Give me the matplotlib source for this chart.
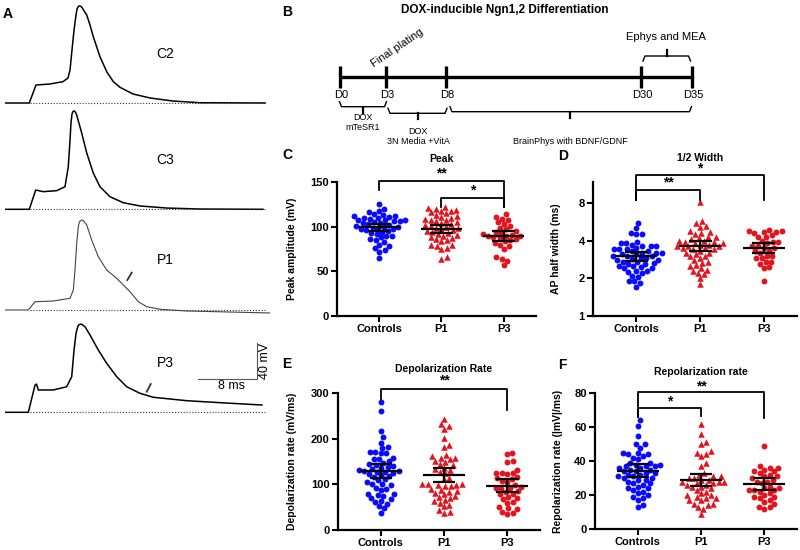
import numpy as np
import matplotlib
matplotlib.use("Agg")
import matplotlib.pyplot as plt

plt.rcParams['font.family'] = ['Liberation Sans', 'DejaVu Sans']

# -----------------------------
# Panel A: AP traces (time in ms, voltage in mV above rest)
# -----------------------------
trace_names = ["C2", "C3", "P1", "P3"]

c2_t = [0, 3.33, 4.25, 6.17, 7.96, 8.64, 8.92, 9.19, 9.47, 9.74, 9.88, 10.01, 10.15, 10.29,
        10.43, 10.56, 10.77, 11.21, 11.66, 12.11, 13.03, 13.95, 14.86, 15.78, 17.56, 19.89,
        23.05, 26.75, 35.67]
c2_v = [0, 0, 20, 21.1, 23.7, 27.8, 36.7, 58.9, 81.1, 97.8, 104.4, 106.7, 107.8, 107.8,
        107.2, 106.1, 103.3, 97.8, 86.7, 73.7, 51.4, 34.8, 23.7, 17.4, 10, 5.6,
        2.2, 0.3, 0]

c3_t = [0, 3.33, 4.21, 5.25, 7.09, 8.23, 8.68, 8.92, 9.05, 9.19, 9.3, 9.43, 9.56, 9.7, 9.83,
        10.52, 11.21, 12.11, 13.03, 14.4, 16.23, 18.52, 22.18, 26.75, 35.39]
c3_v = [0, 0, 21.4, 19.6, 20.7, 25.1, 47.3, 77, 95.9, 105.9, 108.3, 109.3, 109, 107.3, 104.8,
        84.8, 62.6, 40.3, 25.1, 14, 7.3, 3.7, 1.4, 0.3, 0]

p1_t = [0, 3.2, 4.12, 6.63, 8.92, 9.37, 9.6, 9.84, 10.06, 10.15, 10.29, 10.52, 10.67, 10.84,
        11.21, 11.89, 12.8, 13.95, 15.32, 16.23, 17.15, 18.29, 19.44, 21.26, 24.92, 36.35]
p1_v = [0, 0, 9.2, 10, 13, 22.2, 44.4, 74.1, 92.6, 96.1, 98.9, 100, 99.7, 98.3,
        94.4, 77.8, 59.2, 44.4, 35.2, 27.8, 20.3, 9.2, 3.7, 0.8, -1.1, -3.3]

p3_t = [0, 3.2, 4.12, 4.32, 4.57, 6.63, 8.46, 9.15, 9.47, 9.74, 10.01, 10.15, 10.29, 10.43,
        10.56, 10.97, 11.66, 12.8, 13.95, 15.32, 16.69, 18.52, 20.34, 24.92, 29.49, 35.25]
p3_v = [0, 0, 30.3, 31.4, 24.8, 24.8, 28.4, 39.6, 69.2, 87.8, 95.9, 97.3, 97.8, 97.9,
        97.6, 95.1, 85.9, 69.2, 54.4, 39.6, 28.4, 21.1, 16.7, 12.9, 10.7, 8.1]

# shoulder marks (P1, P3)
p1_mark_t = [16.78, 17.38]
p1_mark_v = [33.3, 41.5]
p3_mark_t = [19.44, 19.99]
p3_mark_v = [22.9, 31.4]

scale_ms = 8
scale_mv = 40

# -----------------------------
# Panels C-F: per-cell values
# -----------------------------
groups = ["Controls", "P1", "P3"]

peak_controls = [125, 120, 117, 116, 114, 113, 112, 112, 111, 110, 110, 109, 108, 108, 107, 106,
                 106, 105, 104, 104, 103, 102, 101, 100, 100, 99, 98, 97, 97, 96, 95, 94, 93,
                 92, 90, 89, 88, 86, 85, 83, 80, 78, 76, 74, 72, 65]
peak_p1 = [122, 121, 120, 119, 118, 117, 116, 115, 113, 112, 111, 110, 109, 108, 107, 106,
           105, 104, 103, 102, 101, 100, 99, 98, 97, 96, 95, 94, 93, 92, 91, 90, 88, 87, 86,
           85, 84, 80, 79, 78, 76, 75, 66, 64]
peak_p3 = [114, 111, 109, 107, 105, 103, 101, 99, 97, 95, 94, 93, 92, 91, 90, 90, 89, 88, 87,
           86, 85, 84, 82, 80, 78, 75, 66, 64, 62, 57]
peak_mean = [99.4, 97.5, 89.7]
peak_lo = [95.3, 93.4, 84.1]
peak_hi = [103.5, 101.6, 94.9]

width_controls = [5.5, 5.0, 4.6, 4.5, 4.5, 3.9, 3.8, 3.8, 3.7, 3.6, 3.6, 3.6, 3.5, 3.4, 3.4, 3.4,
                  3.3, 3.3, 3.2, 3.2, 3.2, 3.1, 3.1, 3.0, 3.0, 3.0, 2.9, 2.9, 2.85, 2.8, 2.8, 2.7,
                  2.7, 2.65, 2.6, 2.6, 2.5, 2.5, 2.45, 2.4, 2.4, 2.3, 2.3, 2.25, 2.2, 2.1, 2.05,
                  1.9, 1.9, 1.85, 1.7]
width_p1 = [8.1, 5.7, 5.5, 5.2, 5.1, 4.8, 4.7, 4.6, 4.5, 4.3, 4.3, 4.2, 4.1, 4.0, 4.0, 3.9, 3.9,
            3.8, 3.8, 3.7, 3.7, 3.6, 3.6, 3.6, 3.5, 3.5, 3.4, 3.4, 3.3, 3.2, 3.2, 3.1, 3.0, 3.0,
            2.9, 2.8, 2.7, 2.65, 2.55, 2.5, 2.4, 2.35, 2.3, 2.2, 2.15, 2.0, 1.8]
width_p3 = [4.9, 4.8, 4.8, 4.7, 4.7, 4.6, 4.4, 4.3, 4.3, 4.0, 3.9, 3.9, 3.8, 3.6, 3.6, 3.5, 3.5,
            3.3, 3.3, 3.2, 3.0, 3.0, 2.9, 2.9, 2.7, 2.7, 2.6, 2.45, 2.4, 1.9]
width_mean = [3.02, 3.63, 3.5]
width_lo = [2.76, 3.29, 3.19]
width_hi = [3.25, 3.96, 3.83]

depol_controls = [280, 262, 217, 203, 192, 182, 180, 172, 171, 170, 168, 158, 156, 155, 152, 147,
                  145, 143, 140, 138, 136, 134, 131, 130, 129, 128, 127, 126, 122, 120, 118, 116,
                  111, 109, 106, 102, 100, 98, 92, 90, 88, 80, 78, 76, 75, 70, 68, 64, 61, 58,
                  52, 48, 38]
depol_p1 = [244, 232, 228, 222, 202, 187, 182, 165, 162, 159, 157, 156, 152, 150, 145, 142, 137,
            134, 132, 127, 124, 115, 112, 102, 101, 100, 99, 98, 97, 96, 90, 88, 86, 83, 81, 78,
            74, 72, 70, 65, 63, 60, 55, 52, 43, 40, 38]
depol_p3 = [170, 166, 152, 150, 132, 126, 125, 124, 122, 116, 114, 112, 108, 106, 98, 95, 93, 92,
            90, 85, 83, 80, 78, 72, 70, 68, 62, 60, 50, 48, 45, 40, 38, 36]
depol_mean = [129.5, 120.7, 97.3]
depol_lo = [114.9, 104.6, 84.1]
depol_hi = [144.1, 136.8, 111.2]

repol_controls = [64, 61, 55, 50, 50, 48, 45, 45, 44, 44, 43, 42, 41, 39, 39, 38, 38, 37, 37, 37,
                  36, 36, 35, 35, 34, 34, 33, 33, 32, 32, 31, 31, 30, 30, 29, 29, 28, 27, 27, 26,
                  25, 24, 24, 23, 22, 21, 20, 19, 18, 17, 14, 13]
repol_p1 = [62, 56, 51, 50, 46, 45, 44, 43, 39, 37, 33, 32, 31, 31, 30, 30, 29, 29, 28, 28, 28,
            27, 27, 26, 26, 25, 25, 24, 23, 22, 21, 20, 20, 19, 18, 18, 17, 17, 15, 15, 14, 13,
            12, 9]
repol_p3 = [49, 37, 36, 36, 35, 34, 34, 33, 32, 31, 31, 30, 29, 28, 28, 27, 25, 24, 24, 23, 23,
            23, 22, 21, 20, 19, 19, 18, 17, 16, 15, 13, 13, 12]
repol_mean = [34.4, 28.9, 26.5]
repol_lo = [30.8, 25.4, 23.0]
repol_hi = [38.1, 32.6, 29.9]

BLUE = "#0a0aff"
RED = "#e3141e"

fig = plt.figure(figsize=(8, 5.5), dpi=100)
W, H = 800, 550

# background axes in pixel units for panel B and panel letters
bg = fig.add_axes([0, 0, 1, 1])
bg.set_xlim(0, W)
bg.set_ylim(H, 0)
bg.axis("off")

for letter, (lx, ly) in zip("ABCDEF", [(8, 14), (287, 12), (287, 155), (563, 156), (287, 364), (562, 365)]):
    bg.text(lx, ly, letter, fontsize=10, fontweight="bold", ha="center", va="center")

# -----------------------------
# Panel A
# -----------------------------
PX_MS, PX_MV = 7.29, 0.9
baselines = [103, 209.3, 310, 412.3]
v_lo, v_hi = -8, 112
traces = [(c2_t, c2_v), (c3_t, c3_v), (p1_t, p1_v), (p3_t, p3_v)]
trace_axes = []
for name, (tt, vv), base in zip(trace_names, traces, baselines):
    bottom = base - v_lo * PX_MV
    hgt = (v_hi - v_lo) * PX_MV
    axA = fig.add_axes([5 / W, (H - bottom) / H, 265 / W, hgt / H])
    axA.set_xlim(0, 265 / PX_MS)
    axA.set_ylim(v_lo, v_hi)
    axA.axis("off")
    axA.patch.set_alpha(0)
    thin = name == "P1"
    axA.plot(tt, vv, color="#444444" if thin else "black", lw=0.8 if thin else 1.1,
             solid_joinstyle="round")
    axA.hlines(0, 3.4, 35.6, colors="#333333", linestyles=(0, (1, 1.6)), lw=0.8)
    axA.text(22, 55, name, fontsize=10, ha="center", va="center")
    trace_axes.append(axA)

trace_axes[2].plot(p1_mark_t, p1_mark_v, color="#333333", lw=1.3)
trace_axes[3].plot(p3_mark_t, p3_mark_v, color="#333333", lw=1.3)
axP3 = trace_axes[3]
sb_t, sb_v = 34.53, 36.7
axP3.plot([sb_t - scale_ms, sb_t, sb_t], [sb_v, sb_v, sb_v + scale_mv], color="#555555", lw=0.8)
axP3.text(sb_t - scale_ms / 2 + 0.6, sb_v - 7, f"{scale_ms} ms", fontsize=9, ha="center", va="center")
axP3.text(sb_t + 1.2, sb_v + scale_mv / 2, f"{scale_mv} mV", fontsize=9, rotation=90,
          ha="center", va="center", clip_on=False)

# -----------------------------
# Panel B: timeline
# -----------------------------
bg.text(505, 10, "DOX-inducible Ngn1,2 Differentiation", fontsize=8.5, fontweight="bold",
        ha="center", va="center")
days = ["D0", "D3", "D8", "D30", "D35"]
day_x = [340, 386, 446, 641, 692]
bg.plot([day_x[0], day_x[-1]], [76.7, 76.7], color="black", lw=2.4, solid_capstyle="butt")
for d, x in zip(days, day_x):
    bg.plot([x, x], [66, 87.5], color="black", lw=2.4, solid_capstyle="butt")
    bg.text(x + 1, 95, d, fontsize=8, ha="center", va="center")
bg.text(397, 48, "Final plating", fontsize=8, rotation=34, ha="center", va="center")
bg.text(666, 37, "Ephys and MEA", fontsize=8, ha="center", va="center")


def brace(x1, x2, y, tip, up=False):
    s = -1 if up else 1
    bg.plot([x1, x1 + 2, x2 - 2, x2], [y - 5 * s, y, y, y - 5 * s], color="black", lw=1.0)
    bg.plot([tip, tip], [y, y + 6 * s], color="black", lw=1.6)


brace(339.5, 386.5, 106.7, 362.7)
brace(388, 447, 113.3, 417.7)
brace(450, 691.5, 111.7, 570)
brace(643, 690.5, 56, 666.7, up=True)

bg.text(362.7, 118, "DOX", fontsize=6.5, ha="center", va="center")
bg.text(362.7, 127, "mTeSR1", fontsize=6.5, ha="center", va="center")
bg.text(418, 131, "DOX", fontsize=6.5, ha="center", va="center")
bg.text(418, 141, "3N Media +VitA", fontsize=6.5, ha="center", va="center")
bg.text(570, 141, "BrainPhys with BDNF/GDNF", fontsize=6.5, ha="center", va="center")

# -----------------------------
# Panels C-F: scatter with mean and CI
# -----------------------------


def swarm_x(ax, x0, vals, d=5.6):
    pts = ax.transData.transform(np.column_stack([np.full(len(vals), x0), vals]))
    ys = pts[:, 1]
    unit = ax.transData.transform((1, vals[0]))[0] - ax.transData.transform((0, vals[0]))[0]
    offs = np.zeros(len(vals))
    placed = []
    for i in np.argsort(ys):
        y = ys[i]
        cands = [0.0]
        for px, py in placed:
            dy = y - py
            if abs(dy) < d:
                dx = np.sqrt(d * d - dy * dy)
                cands += [px + dx, px - dx]
        cands.sort(key=abs)
        for c in cands:
            if all((c - px) ** 2 + (y - py) ** 2 >= d * d - 1e-6 for px, py in placed):
                offs[i] = c
                break
        placed.append((offs[i], y))
    return x0 + offs / unit


panels = [
    dict(rect=(337, 182, 199, 134), data=(peak_controls, peak_p1, peak_p3),
         mean=peak_mean, lo=peak_lo, hi=peak_hi, ylim=(0, 150), ticks=[0, 50, 100, 150],
         ylabel="Peak amplitude (mV)", title="Peak", title_y=176, labx=-0.2,
         brackets=[(0, 2, 151.1, 140.7, 122.1, "**", 160), (1, 2, 132.6, 122, 122, "*", 141)]),
    dict(rect=(593, 182, 204, 134), data=(width_controls, width_p1, width_p3),
         mean=width_mean, lo=width_lo, hi=width_hi, ylim=(1, 11.74), ticks=[1, 2, 4, 8],
         ylabel="AP half width (ms)", title="1/2 Width", title_y=18.4, labx=-0.155, log=True,
         brackets=[(0, 2, 13.27, 8.5, 8.5, "*", 15.0), (0, 1, 10.08, 8.5, 8.5, "**", 11.6)]),
    dict(rect=(338, 393.3, 202, 136.7), data=(depol_controls, depol_p1, depol_p3),
         mean=depol_mean, lo=depol_lo, hi=depol_hi, ylim=(0, 300), ticks=[0, 100, 200, 300],
         ylabel="Depolarization rate (mV/ms)", title="Depolarization Rate", title_y=352.7,
         labx=-0.205, brackets=[(0, 2, 308.8, 286.9, 263.4, "**", 328)]),
    dict(rect=(595, 393.3, 202, 135.7), data=(repol_controls, repol_p1, repol_p3),
         mean=repol_mean, lo=repol_lo, hi=repol_hi, ylim=(0, 80), ticks=[0, 20, 40, 60, 80],
         ylabel="Repolarization rate (|mV|/ms)", title="Repolarization rate", title_y=92.7,
         labx=-0.16, brackets=[(0, 2, 80.6, 66, 65.6, "**", 84.2), (0, 1, 71.5, 66, 66.6, "*", 75.3)]),
]

styles = [(BLUE, "o", 18), (RED, "^", 22), (RED, "o", 18)]

for p in panels:
    x, top, w, h = p["rect"]
    ax = fig.add_axes([x / W, (H - top - h) / H, w / W, h / H])
    ax.patch.set_alpha(0)
    if p.get("log"):
        ax.set_yscale("log", base=2)
    ax.set_xlim(-0.68, 2.52)
    ax.set_ylim(*p["ylim"])
    ax.set_yticks(p["ticks"])
    ax.set_yticklabels([str(t) for t in p["ticks"]])
    ax.minorticks_off()
    ax.set_xticks(range(3))
    ax.set_xticklabels(groups)
    for s in ["top", "right"]:
        ax.spines[s].set_visible(False)
    for s in ["left", "bottom"]:
        ax.spines[s].set_linewidth(1.6)
    ax.tick_params(width=1.5, length=4, labelsize=8, pad=2)
    for lab in ax.get_xticklabels() + ax.get_yticklabels():
        lab.set_fontweight("bold")
    ax.set_ylabel(p["ylabel"], fontsize=7.5, fontweight="bold")
    ax.yaxis.set_label_coords(p["labx"], 0.5)

    for i, (vals, (col, mk, sz)) in enumerate(zip(p["data"], styles)):
        xs = swarm_x(ax, i, vals)
        ax.scatter(xs, vals, s=sz, c=col, marker=mk, linewidths=0, zorder=2, clip_on=False)
    ax.hlines(p["mean"], np.arange(3) - 0.33, np.arange(3) + 0.33, colors="black", lw=1.6, zorder=3)
    ax.hlines(p["lo"], np.arange(3) - 0.18, np.arange(3) + 0.18, colors="black", lw=1.6, zorder=3)
    ax.hlines(p["hi"], np.arange(3) - 0.18, np.arange(3) + 0.18, colors="black", lw=1.6, zorder=3)
    ax.vlines(np.arange(3), p["lo"], p["hi"], colors="black", lw=1.6, zorder=3)

    for x1, x2, yt, yl, yr, star, sy in p["brackets"]:
        ax.plot([x1, x1, x2, x2], [yl, yt, yt, yr], color="black", lw=1.3, clip_on=False)
        ax.text((x1 + x2) / 2, sy, star, fontsize=10, fontweight="bold", ha="center",
                va="center", clip_on=False)
    ax.text(1, p["title_y"], p["title"], fontsize=7.5, fontweight="bold", ha="center",
            va="center", clip_on=False)

fig.savefig("out.png", dpi=100)
